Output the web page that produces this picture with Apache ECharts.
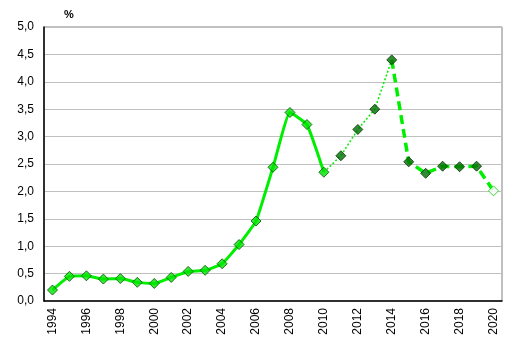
<!DOCTYPE html>
<html>
<head>
<meta charset="utf-8">
<script src="https://cdn.jsdelivr.net/npm/echarts@6/dist/echarts.min.js"></script>
<style>html,body{margin:0;padding:0;background:#fff}#c{width:515px;height:355px}</style>
</head>
<body>
<div id="c"></div>
<script>
var years = ['1994','1995','1996','1997','1998','1999','2000','2001','2002','2003','2004','2005','2006','2007','2008','2009','2010','2011','2012','2013','2014','2015','2016','2017','2018','2019','2020'];
var values = [0.20,0.45,0.46,0.40,0.41,0.34,0.32,0.43,0.54,0.56,0.68,1.03,1.46,2.44,3.44,3.22,2.35,2.65,3.13,3.50,4.40,2.54,2.33,2.46,2.45,2.46,2.01];
var yTicks = [0,0.5,1,1.5,2,2.5,3,3.5,4,4.5,5];
var unitLabel = '%';

function seg(a, b) {
  return values.map(function (v, i) { return (i >= a && i <= b) ? v : null; });
}
var iA = years.indexOf('2010'), iB = years.indexOf('2014'), iEnd = years.length - 1;

var chart = echarts.init(document.getElementById('c'), null, {renderer: 'canvas'});
var font = 'Liberation Sans, Arial, sans-serif';
chart.setOption({
  animation: false,
  backgroundColor: '#fff',
  grid: {left: 44, right: 13, top: 27, bottom: 54, show: true, borderColor: '#808080', borderWidth: 1},
  graphic: [{type: 'text', left: 64, top: 9, style: {text: unitLabel, font: 'bold 11px ' + font, fill: '#000'}}],
  xAxis: {
    type: 'category', data: years, boundaryGap: true,
    axisLine: {lineStyle: {color: '#000', width: 1.5}},
    axisTick: {show: false},
    axisLabel: {rotate: 90, interval: 1, color: '#000', fontSize: 12, fontFamily: font, margin: 7}
  },
  yAxis: {
    type: 'value', min: 0, max: 5, interval: 0.5,
    axisLine: {show: true, lineStyle: {color: '#000', width: 1.5}},
    axisTick: {show: false},
    splitLine: {lineStyle: {color: '#c0c0c0', width: 1}},
    axisLabel: {color: '#000', fontSize: 12, fontFamily: font, margin: 10,
      formatter: function (v) { return v.toFixed(1).replace('.', ','); }}
  },
  series: [
    {type: 'line', data: seg(0, iA), smooth: 0.12, showSymbol: false, connectNulls: false,
      lineStyle: {color: '#00ee00', width: 3}, z: 2},
    {type: 'line', data: seg(iA, iB), showSymbol: false,
      lineStyle: {color: '#00ee00', width: 1.5, type: [2, 2]}, z: 2},
    {type: 'line', data: seg(iB, iEnd), showSymbol: false,
      lineStyle: {color: '#00ee00', width: 3.5, type: [9, 5]}, z: 2},
    {type: 'scatter', data: seg(0, iA), symbol: 'diamond', symbolSize: 10,
      itemStyle: {color: '#00e600', borderColor: '#005500', borderWidth: 1}, z: 3},
    {type: 'scatter', data: seg(iA + 1, iEnd - 1), symbol: 'diamond', symbolSize: 10,
      itemStyle: {color: '#006e00', borderColor: '#003300', borderWidth: 1}, z: 3},
    {type: 'scatter', data: seg(iEnd, iEnd), symbol: 'diamond', symbolSize: 10,
      itemStyle: {color: '#fff', borderColor: '#00cc00', borderWidth: 1}, z: 3}
  ]
});
</script>
</body>
</html>
